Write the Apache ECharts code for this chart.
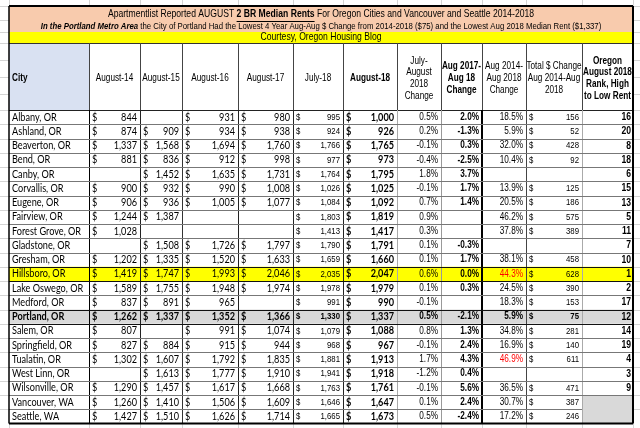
<!DOCTYPE html>
<html>
<head>
    <meta charset="utf-8">
</head>
<body style="margin: 0; background: #fff">
<div id="main" style="width: 640px; height: 428px"></div>
<script type="text/javascript" src="https://cdn.jsdelivr.net/npm/echarts@6/dist/echarts.min.js"></script>
<script type="text/javascript">
    var cities = ['Albany, OR', 'Ashland, OR', 'Beaverton, OR', 'Bend, OR', 'Canby, OR', 'Corvallis, OR', 'Eugene, OR',
        'Fairview, OR', 'Forest Grove, OR', 'Gladstone, OR', 'Gresham, OR', 'Hillsboro, OR', 'Lake Oswego, OR',
        'Medford, OR', 'Portland, OR', 'Salem, OR', 'Springfield, OR', 'Tualatin, OR', 'West Linn, OR',
        'Wilsonville, OR', 'Vancouver, WA', 'Seattle, WA'];
    var aug14 = [844, 874, 1337, 881, null, 900, 906, 1244, 1028, null, 1202, 1419, 1589, 837, 1262, 807, 827, 1302, null, 1290, 1260, 1427];
    var aug15 = [null, 909, 1568, 836, 1452, 932, 936, 1387, null, 1508, 1335, 1747, 1755, 891, 1337, null, 884, 1607, 1613, 1457, 1410, 1510];
    var aug16 = [931, 934, 1694, 912, 1635, 990, 1005, null, null, 1726, 1520, 1993, 1948, 965, 1352, 991, 915, 1792, 1777, 1617, 1506, 1626];
    var aug17 = [980, 938, 1760, 998, 1731, 1008, 1077, null, null, 1797, 1633, 2046, 1974, null, 1366, 1074, 944, 1835, 1910, 1668, 1609, 1714];
    var jul18 = [995, 924, 1766, 977, 1764, 1026, 1084, 1803, 1413, 1790, 1659, 2035, 1978, 991, 1330, 1079, 968, 1881, 1941, 1763, 1646, 1665];
    var aug18 = [1000, 926, 1765, 973, 1795, 1025, 1092, 1819, 1417, 1791, 1660, 2047, 1979, 990, 1337, 1088, 967, 1913, 1918, 1761, 1647, 1673];
    var julAugChange = [0.5, 0.2, -0.1, -0.4, 1.8, -0.1, 0.7, 0.9, 0.3, 0.1, 0.1, 0.6, 0.1, -0.1, 0.5, 0.8, -0.1, 1.7, -1.2, -0.1, 0.1, 0.5];
    var yearChange = [2.0, -1.3, 0.3, -2.5, 3.7, 1.7, 1.4, null, null, -0.3, 1.7, 0.0, 0.3, null, -2.1, 1.3, 2.4, 4.3, 0.4, 5.6, 2.4, -2.4];
    var fourYearChange = [18.5, 5.9, 32.0, 10.4, null, 13.9, 20.5, 46.2, 37.8, null, 38.1, 44.3, 24.5, 18.3, 5.9, 34.8, 16.9, 46.9, null, 36.5, 30.7, 17.2];
    var dollarChange = [156, 52, 428, 92, null, 125, 186, 575, 389, null, 458, 628, 390, 153, 75, 281, 140, 611, null, 471, 387, 246];
    var rank = [16, 20, 8, 18, 6, 15, 13, 5, 11, 7, 10, 1, 2, 17, 12, 14, 19, 4, 3, 9, null, null];

    var headers = ['City', 'August-14', 'August-15', 'August-16', 'August-17', 'July-18', 'August-18',
        'July-\nAugust\n2018\nChange', 'Aug 2017-\nAug 18\nChange', 'Aug 2014-\nAug 2018\nChange',
        'Total $ Change\nAug 2014-Aug\n2018', 'Oregon\nAugust 2018\nRank, High\nto Low Rent'];
    var headerBold = [true, false, false, false, false, false, true, false, true, false, false, true];

    var titlePre = 'Apartmentlist Reported AUGUST ';
    var titleMid = '2 BR Median Rents';
    var titlePost = ' For Oregon Cities and Vancouver and Seattle 2014-2018';
    var subtitleLead = 'In the Portland Metro Area';
    var subtitleRest = ' the City of Portland Had the Lowest 4 Year Aug-Aug $ Change from 2014-2018 ($75) and the Lowest Aug 2018 Median Rent ($1,337)';
    var courtesy = 'Courtesy, Oregon Housing Blog';

    var yellowRow = 'Hillsboro, OR';
    var greyRow = 'Portland, OR';
    var redCities = ['Hillsboro, OR', 'Tualatin, OR'];

    // sheet layout (axis units = pixels)
    var colEdges = [9, 89, 140, 182, 238, 293, 343, 397, 441, 482, 526, 582, 633];
    var bandEdges = [6, 32, 43, 110];
    var rowH = 14.25;

    // no narrow face installed: squeeze Liberation Sans / Lato horizontally instead
    var NARROW = "'Liberation Sans', Arial, sans-serif";
    var CAL = "Lato, 'Open Sans', sans-serif";
    var NX = 0.82, CX = 0.83;

    function rowTop(i) { return bandEdges[3] + i * rowH; }
    function num(v) { return v.toLocaleString('en-US'); }
    function pct(v) { return v.toFixed(1) + '%'; }

    var mctx = document.createElement('canvas').getContext('2d');
    function textW(s, font) { mctx.font = font; return mctx.measureText(s).width; }

    var cells = [];
    function addCell(c0, c1, y0, y1, fill, texts) {
        cells.push({x0: colEdges[c0], x1: colEdges[c1], y0: y0, y1: y1, fill: fill, texts: texts || []});
    }

    // title band
    var tSize = 10.5, sSize = 9.5;
    addCell(0, 12, bandEdges[0], bandEdges[1], '#f8cbad', [
        {text: '{n|' + titlePre + '}{u|' + titleMid + '}{n|' + titlePost + '}', align: 'center', dy: -4.5,
            size: tSize, family: NARROW, sx: NX,
            rich: {n: {fontSize: tSize, fontFamily: NARROW}, u: {fontSize: tSize, fontFamily: NARROW, fontWeight: 'bold'}}},
        {text: '{i|' + subtitleLead + '}{n|' + subtitleRest + '}', align: 'center', dy: 7.5, size: sSize, family: NARROW, sx: NX,
            rich: {n: {fontSize: sSize, fontFamily: NARROW}, i: {fontSize: sSize, fontFamily: NARROW, fontWeight: 'bold', fontStyle: 'italic'}}}
    ]);
    addCell(0, 12, bandEdges[1], bandEdges[2], '#ffff00', [
        {text: courtesy, align: 'center', size: 10.5, family: NARROW, sx: NX}
    ]);

    // header
    headers.forEach(function (h, k) {
        var multi = h.indexOf('\n') >= 0;
        addCell(k, k + 1, bandEdges[2], bandEdges[3], k === 0 ? '#d9e1f2' : null, [
            {text: h, align: k === 0 ? 'left' : 'center', pad: 3, dy: multi ? 2 : 1.5, size: 10, sx: NX,
                family: NARROW, weight: headerBold[k] ? 'bold' : 'normal', lh: 11.8}
        ]);
    });

    // body
    cities.forEach(function (city, i) {
        var y0 = rowTop(i), y1 = rowTop(i + 1);
        var fill = city === yellowRow ? '#ffff00' : city === greyRow ? '#d9d9d9' : null;
        var heavy = city === greyRow;
        var w = heavy ? 'bold' : 'normal';
        function money(col, v, fam, size, sx, weight) {
            if (v == null) { addCell(col, col + 1, y0, y1, fill); return; }
            addCell(col, col + 1, y0, y1, fill, [
                {text: '$', align: 'left', pad: 3, size: size, family: fam, weight: weight, sx: sx},
                {text: num(v), align: 'right', pad: 3, size: size, family: fam, weight: weight, sx: sx}
            ]);
        }
        function percent(col, v, weight, color) {
            if (v == null) { addCell(col, col + 1, y0, y1, fill); return; }
            addCell(col, col + 1, y0, y1, fill, [
                {text: pct(v), align: 'right', pad: 3, size: 10, family: NARROW, weight: weight, color: color, sx: NX}
            ]);
        }
        addCell(0, 1, y0, y1, fill, [{text: city, align: 'left', pad: 3, size: 11, family: CAL, weight: w, sx: CX}]);
        money(1, aug14[i], CAL, 11, CX, w);
        money(2, aug15[i], CAL, 11, CX, w);
        money(3, aug16[i], CAL, 11, CX, w);
        money(4, aug17[i], CAL, 11, CX, w);
        money(5, jul18[i], NARROW, 9.5, NX, w);
        money(6, aug18[i], CAL, 11, CX, 'bold');
        percent(7, julAugChange[i], w);
        percent(8, yearChange[i], 'bold');
        percent(9, fourYearChange[i], w, redCities.indexOf(city) >= 0 ? '#ff0000' : '#000');
        money(10, dollarChange[i], NARROW, 9.5, NX, w);
        if (rank[i] != null) {
            addCell(11, 12, y0, y1, fill, [{text: String(rank[i]), align: 'right', pad: 2, size: 10.5, family: NARROW, weight: 'bold', sx: NX}]);
        }
    });
    // merged blank rank cell for the two Washington cities
    addCell(11, 12, rowTop(20), rowTop(22), '#d9d9d9');

    // underline under the bold part of the title
    var fN = tSize + 'px ' + NARROW, fB = 'bold ' + tSize + 'px ' + NARROW;
    var wPre = textW(titlePre, fN) * NX, wMid = textW(titleMid, fB) * NX, wPost = textW(titlePost, fN) * NX;
    var uStart = (colEdges[0] + colEdges[12]) / 2 - (wPre + wMid + wPost) / 2 + wPre;
    var uY = (bandEdges[0] + bandEdges[1]) / 2 - 4.5 + 6;

    // rules: [x1, y1, x2, y2, colour, width]
    var rules = [];
    var L = colEdges[0], R = colEdges[12], B = rowTop(cities.length);
    var grid = '#d4d4d4';
    // faint sheet gridlines outside the table
    colEdges.forEach(function (x) {
        rules.push([x, 0, x, bandEdges[0], grid, 1]);
        rules.push([x, B, x, 428, grid, 1]);
    });
    [bandEdges[0], 20, bandEdges[1], bandEdges[2], 60, 77, 94, bandEdges[3]].forEach(function (y) {
        rules.push([0, y, L, y, grid, 1]);
        rules.push([R, y, 640, y, grid, 1]);
    });
    for (var i = 1; i < cities.length; i++) {
        rules.push([0, rowTop(i), L, rowTop(i), grid, 1]);
        rules.push([R, rowTop(i), 640, rowTop(i), grid, 1]);
    }
    // header rules
    rules.push([L, bandEdges[2], R, bandEdges[2], '#333', 1]);
    rules.push([L, bandEdges[3], R, bandEdges[3], '#222', 1]);
    for (var k = 1; k < 12; k++) {
        rules.push([colEdges[k], bandEdges[2], colEdges[k], bandEdges[3], '#444', 1]);
    }
    // body rules
    var bodyCol = ['#000', '#222', '#333', '#222', '#222', '#222', '#aaa', '#999', '#000', '#444', '#aaa'];
    var bodyW = [1, 1, 1, 1, 1, 1, 1, 1, 2, 1, 1];
    for (k = 1; k < 12; k++) {
        rules.push([colEdges[k], bandEdges[3], colEdges[k], B, bodyCol[k - 1], bodyW[k - 1]]);
    }
    for (i = 1; i < cities.length; i++) {
        var strong = [yellowRow, greyRow].indexOf(cities[i]) >= 0 || [yellowRow, greyRow].indexOf(cities[i - 1]) >= 0;
        rules.push([L, rowTop(i), i === cities.length - 1 ? colEdges[11] : R, rowTop(i), strong ? '#111' : '#777', 1]);
    }
    // title underline
    rules.push([uStart, uY, uStart + wMid, uY, '#000', 1]);
    // outer frame
    rules.push([L, bandEdges[0], R, bandEdges[0], '#000', 2]);
    rules.push([L, B, R, B, '#000', 2]);
    rules.push([L, bandEdges[0], L, B, '#000', 1.5]);
    rules.push([R, bandEdges[0], R, B, '#000', 2]);

    var chart = echarts.init(document.getElementById('main'));
    chart.setOption({
        animation: false,
        backgroundColor: '#fff',
        grid: {left: 0, right: 0, top: 0, bottom: 0},
        xAxis: {type: 'value', min: 0, max: 640, show: false},
        yAxis: {type: 'value', min: 0, max: 428, inverse: true, show: false},
        series: [{
            type: 'custom',
            clip: false,
            silent: true,
            data: cells.map(function (c) { return [c.x0, c.y0, c.x1, c.y1]; }),
            renderItem: function (params, api) {
                var c = cells[params.dataIndex];
                var p0 = api.coord([api.value(0), api.value(1)]);
                var p1 = api.coord([api.value(2), api.value(3)]);
                var children = [];
                if (c.fill) {
                    children.push({type: 'rect', shape: {x: p0[0], y: p0[1], width: p1[0] - p0[0], height: p1[1] - p0[1]},
                        style: {fill: c.fill}});
                }
                c.texts.forEach(function (t) {
                    var x = t.align === 'left' ? p0[0] + t.pad : t.align === 'right' ? p1[0] - t.pad : (p0[0] + p1[0]) / 2;
                    var y = (p0[1] + p1[1]) / 2 + (t.dy || 0);
                    children.push({type: 'text', x: x, y: y, scaleX: t.sx || 1, style: {
                        text: t.text, align: t.align, verticalAlign: 'middle', fill: t.color || '#000',
                        fontSize: t.size, fontFamily: t.family, fontWeight: t.weight || 'normal',
                        fontStyle: t.style || 'normal', lineHeight: t.lh, rich: t.rich
                    }});
                });
                return {type: 'group', children: children};
            }
        }, {
            type: 'custom',
            clip: false,
            silent: true,
            z: 5,
            data: rules.map(function (r) { return [r[0], r[1], r[2], r[3]]; }),
            renderItem: function (params, api) {
                var r = rules[params.dataIndex];
                var a = api.coord([api.value(0), api.value(1)]);
                var b = api.coord([api.value(2), api.value(3)]);
                if (r[5] === 1) {
                    if (a[0] === b[0]) { a[0] = b[0] = Math.round(a[0]) + 0.5; }
                    if (a[1] === b[1]) { a[1] = b[1] = Math.round(a[1]) + 0.5; }
                }
                return {type: 'line', shape: {x1: a[0], y1: a[1], x2: b[0], y2: b[1]},
                    style: {stroke: r[4], lineWidth: r[5]}};
            }
        }]
    });
</script>
</body>
</html>
